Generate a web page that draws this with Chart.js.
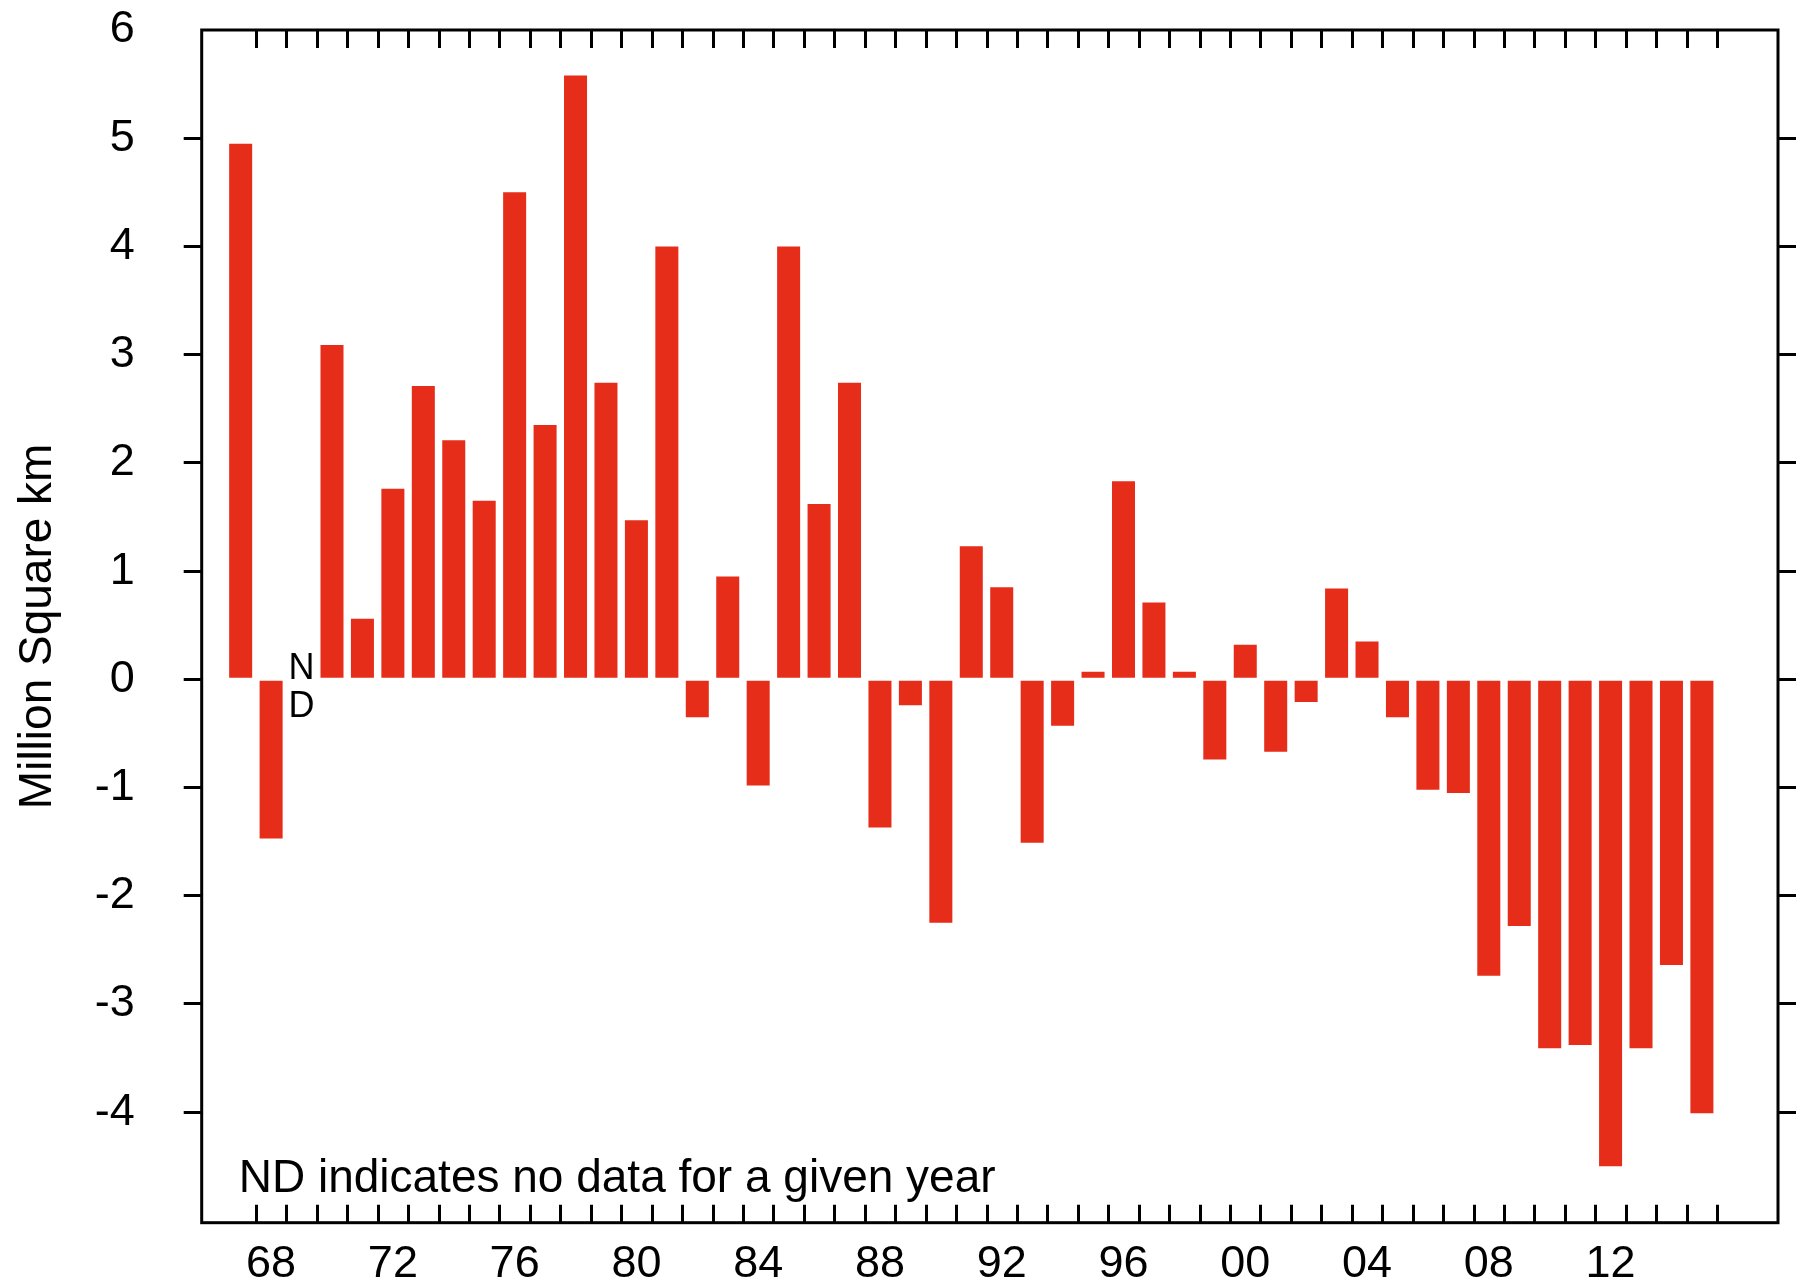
<!DOCTYPE html>
<html>
<head>
<meta charset="utf-8">
<title>Snow cover extent anomaly</title>
<script src="https://cdn.jsdelivr.net/npm/chart.js@4/dist/chart.umd.min.js"></script>
<style>
  html, body { margin: 0; padding: 0; background: #ffffff; }
  #wrap { width: 1803px; height: 1283px; }
</style>
</head>
<body>
<div id="wrap"><canvas id="chart" width="1803" height="1283"></canvas></div>
<script>
// Yearly anomaly, million km² (1969: no data)
const years = [
  1967, 1968, 1969, 1970, 1971, 1972, 1973, 1974, 1975, 1976,
  1977, 1978, 1979, 1980, 1981, 1982, 1983, 1984, 1985, 1986,
  1987, 1988, 1989, 1990, 1991, 1992, 1993, 1994, 1995, 1996,
  1997, 1998, 1999, 2000, 2001, 2002, 2003, 2004, 2005, 2006,
  2007, 2008, 2009, 2010, 2011, 2012, 2013, 2014, 2015
];
const anomaly = [
   4.95, -1.47,  null,  3.09,  0.56,  1.76,  2.71,  2.21,  1.65,  4.50,
   2.35,  5.58,  2.74,  1.47,  4.00, -0.35,  0.95, -0.98,  4.00,  1.62,
   2.74, -1.37, -0.24, -2.25,  1.23,  0.85, -1.51, -0.43,  0.07,  1.83,
   0.71,  0.07, -0.74,  0.32, -0.67, -0.21,  0.84,  0.35, -0.35, -1.02,
  -1.05, -2.74, -2.28, -3.41, -3.38, -4.50, -3.41, -2.64, -4.01
];
const noDataYears = [1969];
const yearLabelTicks = [1968, 1972, 1976, 1980, 1984, 1988, 1992, 1996, 2000, 2004, 2008, 2012];
const valueTicks = [-4, -3, -2, -1, 0, 1, 2, 3, 4, 5, 6];
const axisTitle = 'Million Square km';
const footnote = 'ND indicates no data for a given year';

const FONT = '"Liberation Sans", Arial, Helvetica, sans-serif';
const BAR_RED = '#e52d1a';
const TOP_VALUE = 6;

// Frame, inward year ticks on top/bottom, and the ND marker + footnote
const decorations = {
  id: 'decorations',
  afterDatasetsDraw(chart) {
    const { ctx, chartArea: a, scales } = chart;
    const x = scales.x, y = scales.y;
    ctx.save();
    ctx.strokeStyle = '#000';
    ctx.lineWidth = 3;
    ctx.lineCap = 'butt';
    ctx.strokeRect(a.left, a.top, a.right - a.left, a.bottom - a.top);

    // one tick between consecutive years, after each bar
    ctx.beginPath();
    years.forEach(yr => {
      const px = Math.round(x.getPixelForValue(yr + 0.5)) + 0.5;
      ctx.moveTo(px, a.top);
      ctx.lineTo(px, a.top + 18);
      ctx.moveTo(px, a.bottom);
      ctx.lineTo(px, a.bottom - 18);
    });
    ctx.stroke();

    // "ND" stacked around the zero line for missing years
    ctx.fillStyle = '#000';
    ctx.font = '36px ' + FONT;
    ctx.textAlign = 'center';
    const y0 = y.getPixelForValue(0);
    noDataYears.forEach(yr => {
      const px = x.getPixelForValue(yr);
      ctx.textBaseline = 'alphabetic';
      ctx.fillText('N', px, y0);
      ctx.fillText('D', px, y0 + 38);
    });

    ctx.font = '46px ' + FONT;
    ctx.textAlign = 'left';
    ctx.textBaseline = 'alphabetic';
    ctx.fillText(footnote, a.left + 37, a.bottom - 31);
    ctx.restore();
  }
};

const fixedTicks = list => scale => { scale.ticks = list.map(v => ({ value: v })); };
const fixBox = (w, h) => s => {
  if (w !== null) s.width = w;
  if (h !== null) s.height = h;
  s.paddingTop = 0; s.paddingBottom = 0; s.paddingLeft = 0; s.paddingRight = 0;
};
// the top value sits on the frame corner and gets a label but no tick mark
const tickMarkColor = c => (c.tick && c.tick.value === TOP_VALUE) ? 'rgba(0,0,0,0)' : '#000';

new Chart(document.getElementById('chart'), {
  type: 'bar',
  data: {
    datasets: [{
      data: years.map((yr, i) => ({ x: yr, y: anomaly[i] })),
      backgroundColor: BAR_RED,
      borderWidth: 0,
      barPercentage: 0.756,
      categoryPercentage: 1.0
    }]
  },
  options: {
    responsive: false,
    animation: false,
    events: [],
    layout: { padding: { top: 30, left: 0, right: 0, bottom: 0 } },
    plugins: { legend: { display: false }, tooltip: { enabled: false } },
    scales: {
      x: {
        type: 'linear',
        position: 'bottom',
        offset: false,
        min: 1965.72,
        max: 2017.5,
        afterBuildTicks: fixedTicks(yearLabelTicks),
        afterFit: fixBox(null, 60.3),
        grid: { display: false, drawTicks: false, offset: false },
        border: { display: false },
        ticks: {
          color: '#000',
          font: { family: FONT, size: 45 },
          padding: 15,
          maxRotation: 0,
          autoSkip: false,
          callback: v => String(v % 100).padStart(2, '0')
        }
      },
      y: {
        type: 'linear',
        position: 'left',
        min: -5.021,
        max: TOP_VALUE,
        afterBuildTicks: fixedTicks(valueTicks),
        afterFit: fixBox(201.7, null),
        grid: { drawOnChartArea: false, drawTicks: true, tickLength: 18, lineWidth: 3, tickColor: tickMarkColor, color: '#000' },
        border: { display: false },
        title: {
          display: true,
          text: axisTitle,
          color: '#000',
          font: { family: FONT, size: 46 },
          padding: { top: 11, bottom: 0 }
        },
        ticks: {
          color: '#000',
          font: { family: FONT, size: 45 },
          padding: 49,
          autoSkip: false,
          callback: v => String(v)
        }
      },
      y2: {
        type: 'linear',
        position: 'right',
        min: -5.021,
        max: TOP_VALUE,
        afterBuildTicks: fixedTicks(valueTicks),
        afterFit: fixBox(25, null),
        grid: { drawOnChartArea: false, drawTicks: true, tickLength: 18, lineWidth: 3, tickColor: tickMarkColor, color: '#000' },
        border: { display: false },
        ticks: { display: false }
      }
    }
  },
  plugins: [decorations]
});
</script>
</body>
</html>
